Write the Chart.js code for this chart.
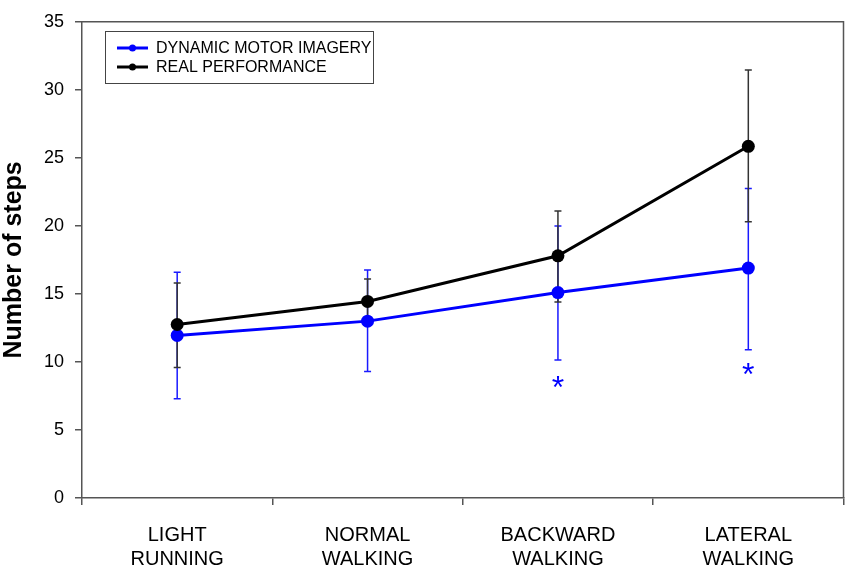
<!DOCTYPE html>
<html>
<head>
<meta charset="utf-8">
<script src="https://cdn.jsdelivr.net/npm/chart.js@4"></script>
<style>
  html, body { margin: 0; padding: 0; background: #fff; }
  #wrap { width: 850px; height: 568px; position: relative; }
</style>
</head>
<body>
<div id="wrap"><canvas id="chart"></canvas></div>
<script>
// categories on the x axis
const categories = [['LIGHT', 'RUNNING'], ['NORMAL', 'WALKING'], ['BACKWARD', 'WALKING'], ['LATERAL', 'WALKING']];

// dynamic motor imagery (blue)
const imageryMean = [11.95, 13.0, 15.1, 16.9];
const imageryLow = [7.3, 9.3, 10.15, 10.9];
const imageryHigh = [16.6, 16.75, 20.0, 22.75];

// real performance (black)
const realMean = [12.75, 14.45, 17.8, 25.85];
const realLow = [9.6, 12.8, 14.4, 20.3];
const realHigh = [15.8, 16.1, 21.1, 31.45];

// significance markers (y value of the asterisk)
const asteriskAt = [null, null, 8.4, 9.3];

const yMin = 0, yMax = 35, yStep = 5;
const FONT = "'Liberation Sans', Arial, sans-serif";
const AXIS = '#555';

const errorBars = {
    id: 'errorBars',
    beforeDatasetsDraw(chart) {
        const ctx = chart.ctx;
        const xs = chart.scales.x, ys = chart.scales.y;
        const sets = [
            { low: imageryLow, high: imageryHigh, color: '#1a1aff' },
            { low: realLow, high: realHigh, color: '#333' }
        ];
        ctx.save();
        ctx.lineWidth = 1.5;
        sets.forEach(s => {
            ctx.strokeStyle = s.color;
            s.low.forEach((lo, i) => {
                const x = xs.getPixelForValue(i);
                const y1 = ys.getPixelForValue(lo);
                const y2 = ys.getPixelForValue(s.high[i]);
                ctx.beginPath();
                ctx.moveTo(x, y1); ctx.lineTo(x, y2);
                ctx.moveTo(x - 3.5, y1); ctx.lineTo(x + 3.5, y1);
                ctx.moveTo(x - 3.5, y2); ctx.lineTo(x + 3.5, y2);
                ctx.stroke();
            });
        });
        ctx.restore();
    },
    afterDatasetsDraw(chart) {
        const ctx = chart.ctx;
        const xs = chart.scales.x, ys = chart.scales.y;
        const a = chart.chartArea;
        ctx.save();
        // frame around the plot
        ctx.strokeStyle = AXIS;
        ctx.lineWidth = 1.5;
        ctx.beginPath();
        ctx.moveTo(a.left, a.top); ctx.lineTo(a.right, a.top); ctx.lineTo(a.right, a.bottom);
        ctx.stroke();
        // asterisks
        ctx.fillStyle = '#0000ff';
        ctx.font = '32px ' + FONT;
        ctx.textAlign = 'center';
        ctx.textBaseline = 'alphabetic';
        asteriskAt.forEach((v, i) => {
            if (v === null) return;
            ctx.fillText('*', xs.getPixelForValue(i), ys.getPixelForValue(v) + 14);
        });
        // legend box
        ctx.lineWidth = 1;
        ctx.strokeStyle = '#444';
        ctx.strokeRect(105.5, 31.5, 268, 52);
        const rows = [
            { label: 'DYNAMIC MOTOR IMAGERY', color: '#0000ff', y: 48 },
            { label: 'REAL PERFORMANCE', color: '#000', y: 67 }
        ];
        ctx.font = '16px ' + FONT;
        ctx.textAlign = 'left';
        ctx.textBaseline = 'middle';
        rows.forEach(r => {
            ctx.strokeStyle = r.color;
            ctx.lineWidth = 3;
            ctx.beginPath(); ctx.moveTo(117, r.y); ctx.lineTo(148, r.y); ctx.stroke();
            ctx.fillStyle = r.color;
            ctx.beginPath(); ctx.arc(132.5, r.y, 3.5, 0, Math.PI * 2); ctx.fill();
            ctx.fillStyle = '#000';
            ctx.fillText(r.label, 156, r.y + 1);
        });
        ctx.restore();
    }
};

const ctx = document.getElementById('chart').getContext('2d');
new Chart(ctx, {
    type: 'line',
    data: {
        labels: categories,
        datasets: [{
            label: 'DYNAMIC MOTOR IMAGERY',
            data: imageryMean,
            borderColor: '#0000ff',
            backgroundColor: '#0000ff',
            borderWidth: 3,
            pointRadius: 6.5,
            pointBorderWidth: 0,
            order: 1
        }, {
            label: 'REAL PERFORMANCE',
            data: realMean,
            borderColor: '#000',
            backgroundColor: '#000',
            borderWidth: 3,
            pointRadius: 6.5,
            pointBorderWidth: 0,
            order: 0
        }]
    },
    options: {
        responsive: true,
        maintainAspectRatio: false,
        animation: false,
        layout: { padding: { top: 13, right: 3, left: 0, bottom: 0 } },
        plugins: {
            legend: { display: false },
            tooltip: { enabled: false }
        },
        scales: {
            x: {
                offset: true,
                afterFit: s => { s.height = 70; },
                grid: {
                    offset: true,
                    drawOnChartArea: false,
                    drawTicks: true,
                    tickLength: 7,
                    color: AXIS,
                    lineWidth: 1.5
                },
                border: { color: AXIS, width: 1.5 },
                ticks: {
                    color: '#000',
                    padding: 18,
                    maxRotation: 0,
                    autoSkip: false,
                    font: { family: FONT, size: 20, lineHeight: 1.2 }
                }
            },
            y: {
                min: yMin,
                max: yMax,
                afterFit: s => { s.width = 82; },
                grid: {
                    drawOnChartArea: false,
                    drawTicks: true,
                    tickLength: 7,
                    color: AXIS,
                    lineWidth: 1.5
                },
                border: { color: AXIS, width: 1.5 },
                ticks: {
                    stepSize: yStep,
                    color: '#000',
                    padding: 11,
                    font: { family: FONT, size: 18 }
                },
                title: {
                    display: true,
                    text: 'Number of steps',
                    color: '#000',
                    padding: { top: 0, bottom: 0 },
                    font: { family: FONT, size: 25, weight: 'bold', lineHeight: 1.15 }
                }
            }
        }
    },
    plugins: [errorBars]
});
</script>
</body>
</html>
